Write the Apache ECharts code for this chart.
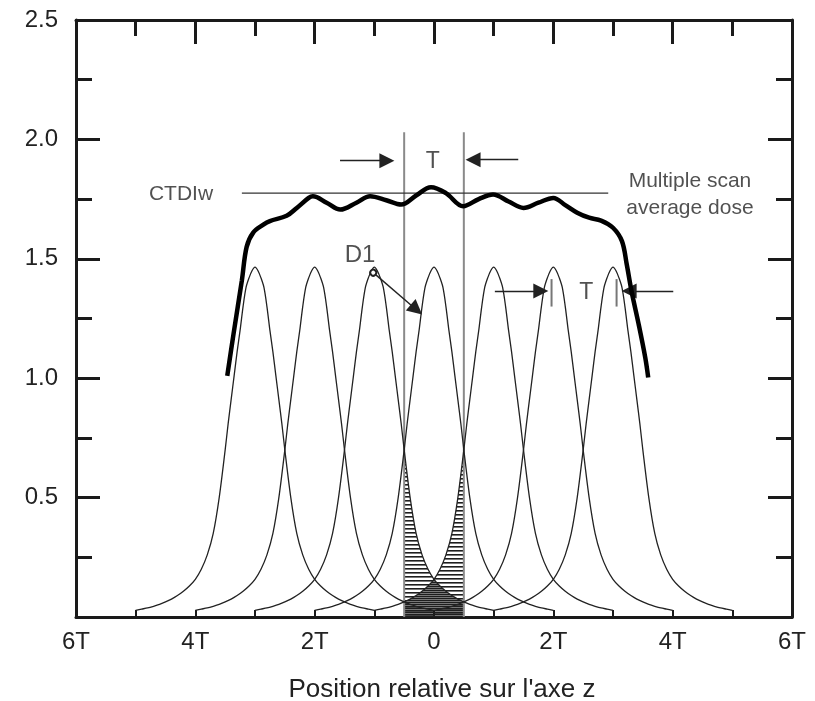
<!DOCTYPE html>
<html>
<head>
<meta charset="utf-8">
<script src="https://cdn.jsdelivr.net/npm/echarts@6/dist/echarts.min.js"></script>
<style>
html,body{margin:0;padding:0;background:#fff;}
#chart{width:815px;height:701px;}
</style>
</head>
<body>
<div id="chart"></div>
<script>
// ---- data ----
const xTickValues = [-6, -4, -2, 0, 2, 4, 6];
const xTickLabels = ['6T', '4T', '2T', '0', '2T', '4T', '6T'];
const yTickLabels = ['', '0.5', '1.0', '1.5', '2.0', '2.5'];

// single-scan dose profile D1 (distance from slice centre in T, dose)
const profileOffset = [0, 0.05, 0.1, 0.15, 0.2, 0.25, 0.3, 0.35, 0.4, 0.45, 0.5, 0.6, 0.7, 0.8, 0.9, 1.0, 1.1, 1.2, 1.3, 1.4, 1.5, 1.6, 1.7, 1.8, 1.9, 2.0];
const profileDose   = [1.465, 1.45, 1.42, 1.38, 1.30, 1.20, 1.11, 1.01, 0.91, 0.81, 0.70, 0.50, 0.35, 0.26, 0.20, 0.158, 0.13, 0.108, 0.09, 0.075, 0.063, 0.053, 0.045, 0.038, 0.033, 0.028];
const scanCenters = [-3, -2, -1, 0, 1, 2, 3];
const hatchNeighbours = [-2, -1, 1, 2];

// multiple scan average dose (thick curve)
const totalZ    = [-3.465, -3.36, -3.22, -3.14, -3.03, -2.86, -2.75, -2.47, -2.3, -2.1, -2.03, -1.8, -1.57, -1.3, -1.07, -0.8, -0.55, -0.3, -0.05, 0.2, 0.49, 0.75, 0.99, 1.25, 1.5, 1.75, 2.0, 2.2, 2.4, 2.6, 2.8, 3.0, 3.15, 3.23, 3.31, 3.43, 3.54, 3.59];
const totalDose = [1.01, 1.185, 1.41, 1.55, 1.61, 1.643, 1.658, 1.68, 1.713, 1.755, 1.762, 1.735, 1.706, 1.735, 1.762, 1.745, 1.727, 1.765, 1.80, 1.775, 1.72, 1.75, 1.769, 1.74, 1.713, 1.735, 1.755, 1.725, 1.693, 1.672, 1.66, 1.63, 1.574, 1.477, 1.365, 1.226, 1.087, 1.003];

const ctdiwLevel = 1.775;
const ctdiwRange = [-3.22, 2.92];
const sliceEdges = [-0.5, 0.5];
const sliceLineTop = 2.03;

// arrows: [fromX, fromY, toX, toY]
const arrowList = [
  [-1.575, 1.911, -0.79, 1.911],
  [1.412, 1.915, 0.655, 1.915],
  [-1.018, 1.442, -0.295, 1.287],
  [1.02, 1.365, 1.79, 1.365],
  [4.01, 1.365, 3.27, 1.365]
];
const barX = [1.97, 3.06];
const barRange = [1.30, 1.415];

// text annotations: [x, y, text, fontSize]
const annotations = [
  [-4.24, 1.770, 'CTDIw', 21],
  [4.29, 1.768, 'Multiple scan\naverage dose', 21],
  [-0.02, 1.908, 'T', 23],
  [2.55, 1.358, 'T', 23],
  [-1.24, 1.516, 'D1', 24]
];

// ---- build series ----
function scanCurve(c) {
  const pts = [];
  for (let i = profileOffset.length - 1; i > 0; i--) pts.push([c - profileOffset[i], profileDose[i]]);
  for (let i = 0; i < profileOffset.length; i++) pts.push([c + profileOffset[i], profileDose[i]]);
  return pts;
}
function clipped(pts) {
  return pts.filter(p => p[0] >= sliceEdges[0] - 1e-9 && p[0] <= sliceEdges[1] + 1e-9);
}
function hatchCanvas(offset) {
  const cv = document.createElement('canvas');
  cv.width = 8; cv.height = 4;
  const ctx = cv.getContext('2d');
  ctx.fillStyle = '#1e1e1e';
  ctx.fillRect(0, offset, 8, 1.6);
  return cv;
}
const hatchA = hatchCanvas(0);
const hatchB = hatchCanvas(2);

const FONT = '"Liberation Sans", Arial, Helvetica, sans-serif';
const INK = '#1a1a1a';
const series = [];

hatchNeighbours.forEach(c => {
  const pat = (c === -1 || c === 2) ? hatchA : hatchB;
  series.push({
    type: 'line', data: clipped(scanCurve(c)), showSymbol: false, smooth: 0.3,
    lineStyle: { width: 0 }, areaStyle: { color: { image: pat, repeat: 'repeat' }, opacity: 1, origin: 'start' },
    z: 1, silent: true
  });
});

scanCenters.forEach(c => {
  series.push({
    type: 'line', data: scanCurve(c), showSymbol: false, smooth: 0.3,
    lineStyle: { color: '#222', width: 1.3 }, z: 3, silent: true
  });
});

sliceEdges.forEach(x => {
  series.push({
    type: 'line', data: [[x, 0], [x, sliceLineTop]], showSymbol: false,
    lineStyle: { color: '#8a8a8a', width: 2 }, z: 2, silent: true
  });
});

series.push({
  type: 'line', data: [[ctdiwRange[0], ctdiwLevel], [ctdiwRange[1], ctdiwLevel]], showSymbol: false,
  lineStyle: { color: '#333', width: 1.2 }, z: 2, silent: true
});

barX.forEach(x => {
  series.push({
    type: 'line', data: [[x, barRange[0]], [x, barRange[1]]], showSymbol: false,
    lineStyle: { color: '#777', width: 2 }, z: 4, silent: true
  });
});

series.push({
  type: 'line', data: totalZ.map((z, i) => [z, totalDose[i]]), showSymbol: false, smooth: 0.35,
  lineStyle: { color: '#000', width: 4.5 }, z: 5, silent: true
});

series.push({
  type: 'line', data: [], silent: true, z: 6,
  markLine: {
    silent: true, animation: false,
    label: { show: false },
    lineStyle: { color: '#222', width: 1.4, type: 'solid' },
    emphasis: { disabled: true },
    data: arrowList.map((a, i) => [
      { coord: [a[0], a[1]], symbol: i === 2 ? 'emptyCircle' : 'none', symbolSize: 6 },
      { coord: [a[2], a[3]], symbol: 'triangle', symbolSize: 15 }
    ])
  }
});

const textSeries = {
  type: 'scatter', symbolSize: 0, z: 7, silent: true,
  data: annotations.map(a => ({
    value: [a[0], a[1]], name: a[2],
    label: { fontSize: a[3], lineHeight: Math.round(a[3] * 1.28) }
  })),
  label: {
    show: true, position: 'inside', align: 'center', verticalAlign: 'middle',
    color: '#262626', fontFamily: FONT,
    formatter: p => p.name
  }
};
series.push(textSeries);

const baseAxisLine = { show: true, onZero: false, lineStyle: { color: INK, width: 3 } };

const option = {
  animation: false,
  backgroundColor: '#fff',
  grid: { left: 76, right: 23, top: 20, bottom: 84, containLabel: false, outerBoundsMode: 'none' },
  xAxis: [
    {
      type: 'value', position: 'bottom', min: -6, max: 6, interval: 2,
      axisLine: baseAxisLine,
      axisTick: { show: true, inside: true, length: 7, lineStyle: { color: INK, width: 2 } },
      minorTick: { show: true, splitNumber: 2, length: 7, lineStyle: { color: INK, width: 2 } },
      splitLine: { show: false }, minorSplitLine: { show: false },
      axisLabel: {
        fontSize: 24, color: '#222', fontFamily: FONT, margin: 13,
        formatter: v => { const i = xTickValues.indexOf(v); return i >= 0 ? xTickLabels[i] : ''; }
      },
      name: "Position relative sur l'axe z", nameLocation: 'middle', nameGap: 60,
      nameTextStyle: { fontSize: 26, color: '#222', fontFamily: FONT, padding: [0, 0, 0, 16] }
    },
    {
      type: 'value', position: 'top', min: -6, max: 6, interval: 2,
      axisLine: baseAxisLine,
      axisTick: { show: true, inside: true, length: 24, lineStyle: { color: INK, width: 3 } },
      minorTick: { show: true, splitNumber: 2, length: 16, lineStyle: { color: INK, width: 3 } },
      splitLine: { show: false }, axisLabel: { show: false }
    }
  ],
  yAxis: [
    {
      type: 'value', position: 'left', min: 0, max: 2.5, interval: 0.5,
      axisLine: baseAxisLine,
      axisTick: { show: true, inside: true, length: 24, lineStyle: { color: INK, width: 3 } },
      minorTick: { show: true, splitNumber: 2, length: 16, lineStyle: { color: INK, width: 3 } },
      splitLine: { show: false }, minorSplitLine: { show: false },
      axisLabel: {
        fontSize: 24, color: '#222', fontFamily: FONT, margin: 18,
        formatter: v => yTickLabels[Math.round(v / 0.5)] || ''
      }
    },
    {
      type: 'value', position: 'right', min: 0, max: 2.5, interval: 0.5,
      axisLine: baseAxisLine,
      axisTick: { show: true, inside: true, length: 24, lineStyle: { color: INK, width: 3 } },
      minorTick: { show: true, splitNumber: 2, length: 16, lineStyle: { color: INK, width: 3 } },
      splitLine: { show: false }, axisLabel: { show: false }
    }
  ],
  series: series
};

const chart = echarts.init(document.getElementById('chart'), null, { renderer: 'canvas' });
chart.setOption(option);
</script>
</body>
</html>
